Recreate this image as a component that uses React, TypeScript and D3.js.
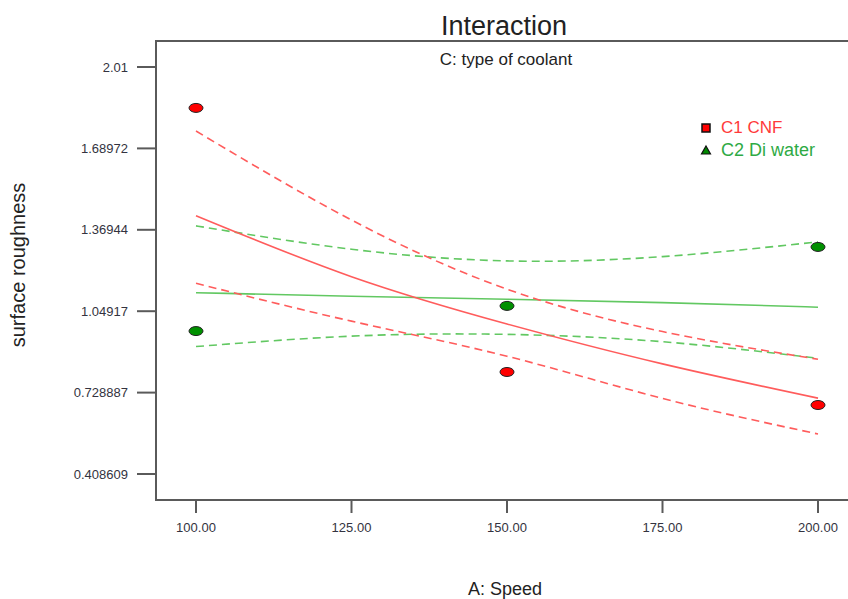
import React from 'react';
import * as d3 from 'd3';

// speed levels used for the fitted curves
const speeds = [100, 125, 150, 175, 200];

// C1 CNF: fitted line and 95% bands
const cnfFit = [1.425, 1.185, 0.999, 0.842, 0.707];
const cnfUpper = [1.758, 1.408, 1.136, 0.969, 0.86];
const cnfLower = [1.159, 1.01, 0.872, 0.706, 0.566];

// C2 Di water: fitted line and 95% bands
const waterFit = [1.122, 1.108, 1.096, 1.083, 1.065];
const waterUpper = [1.385, 1.293, 1.247, 1.264, 1.322];
const waterLower = [0.91, 0.951, 0.958, 0.929, 0.864];

// design points
const pointSpeeds = [100, 150, 200];
const cnfPoints = [1.849, 0.81, 0.68];
const waterPoints = [0.971, 1.07, 1.302];

const yTicks = [0.408609, 0.728887, 1.04917, 1.36944, 1.68972, 2.01];
const yTickLabels = ['0.408609', '0.728887', '1.04917', '1.36944', '1.68972', '2.01'];
const xTicks = [100, 125, 150, 175, 200];

const W = 848;
const H = 599;
const frame = { left: 156, top: 41, bottom: 500, right: 852 };

const RED = '#ff5c5c';
const GREEN = '#62c862';
const FONT = 'Arial, "Liberation Sans", sans-serif';

export default function App() {
  const x = d3.scaleLinear().domain([100, 200]).range([196, 818]);
  const y = d3.scaleLinear().domain([0.408609, 2.01]).range([474, 67]);

  const line = d3
    .line<number>()
    .x((_, i) => x(speeds[i]))
    .y((d) => y(d))
    .curve(d3.curveNatural);

  const curves = [
    { vals: waterUpper, color: GREEN, dash: '8,5' },
    { vals: waterLower, color: GREEN, dash: '8,5' },
    { vals: waterFit, color: GREEN, dash: null },
    { vals: cnfUpper, color: RED, dash: '8,5' },
    { vals: cnfLower, color: RED, dash: '8,5' },
    { vals: cnfFit, color: RED, dash: null },
  ];

  return (
    <svg
      width={W}
      height={H}
      style={{ position: 'absolute', left: 0, top: 0, background: '#fff' }}
      fontFamily={FONT}
    >
      {/* frame */}
      <path
        d={`M${frame.right},${frame.top}H${frame.left}V${frame.bottom}H${frame.right}`}
        fill="none"
        stroke="#5a5a5a"
        strokeWidth={2}
      />

      {/* y axis ticks */}
      {yTicks.map((t, i) => (
        <g key={t}>
          <line x1={frame.left - 19} x2={frame.left} y1={y(t)} y2={y(t)} stroke="#5a5a5a" strokeWidth={2} />
          <text x={128} y={y(t)} dy="0.35em" textAnchor="end" fontSize={13} fill="#333340">
            {yTickLabels[i]}
          </text>
        </g>
      ))}

      {/* x axis ticks */}
      {xTicks.map((t) => (
        <g key={t}>
          <line x1={x(t)} x2={x(t)} y1={frame.bottom} y2={frame.bottom + 13} stroke="#5a5a5a" strokeWidth={2} />
          <text x={x(t)} y={532} textAnchor="middle" fontSize={13} fill="#333340">
            {d3.format('.2f')(t)}
          </text>
        </g>
      ))}

      {/* curves */}
      {curves.map((c, i) => (
        <path
          key={i}
          d={line(c.vals) || ''}
          fill="none"
          stroke={c.color}
          strokeWidth={1.6}
          strokeDasharray={c.dash || undefined}
        />
      ))}

      {/* design points */}
      {pointSpeeds.map((s, i) => (
        <ellipse key={'c' + s} cx={x(s)} cy={y(cnfPoints[i])} rx={7} ry={4.5} fill="#ff0000" stroke="#222" strokeWidth={1} />
      ))}
      {pointSpeeds.map((s, i) => (
        <ellipse key={'w' + s} cx={x(s)} cy={y(waterPoints[i])} rx={7} ry={4.5} fill="#009000" stroke="#222" strokeWidth={1} />
      ))}

      {/* titles */}
      <text x={504} y={35} textAnchor="middle" fontSize={27} fill="#222">
        Interaction
      </text>
      <text x={506} y={65} textAnchor="middle" fontSize={17} fill="#222">
        C: type of coolant
      </text>
      <text x={505} y={595} textAnchor="middle" fontSize={18} fill="#222">
        A: Speed
      </text>
      <text transform="translate(25,265) rotate(-90)" textAnchor="middle" fontSize={20} fill="#222">
        surface roughness
      </text>

      {/* legend */}
      <rect x={702} y={124} width={8} height={8} fill="#ff0000" stroke="#111" strokeWidth={1.5} />
      <text x={721} y={133} fontSize={17} fill="#ff3a3a">
        C1 CNF
      </text>
      <path d="M706,146L710.5,154H701.5Z" fill="#008800" stroke="#111" strokeWidth={1.2} />
      <text x={721} y={156} fontSize={18} fill="#2eaa44">
        C2 Di water
      </text>
    </svg>
  );
}
